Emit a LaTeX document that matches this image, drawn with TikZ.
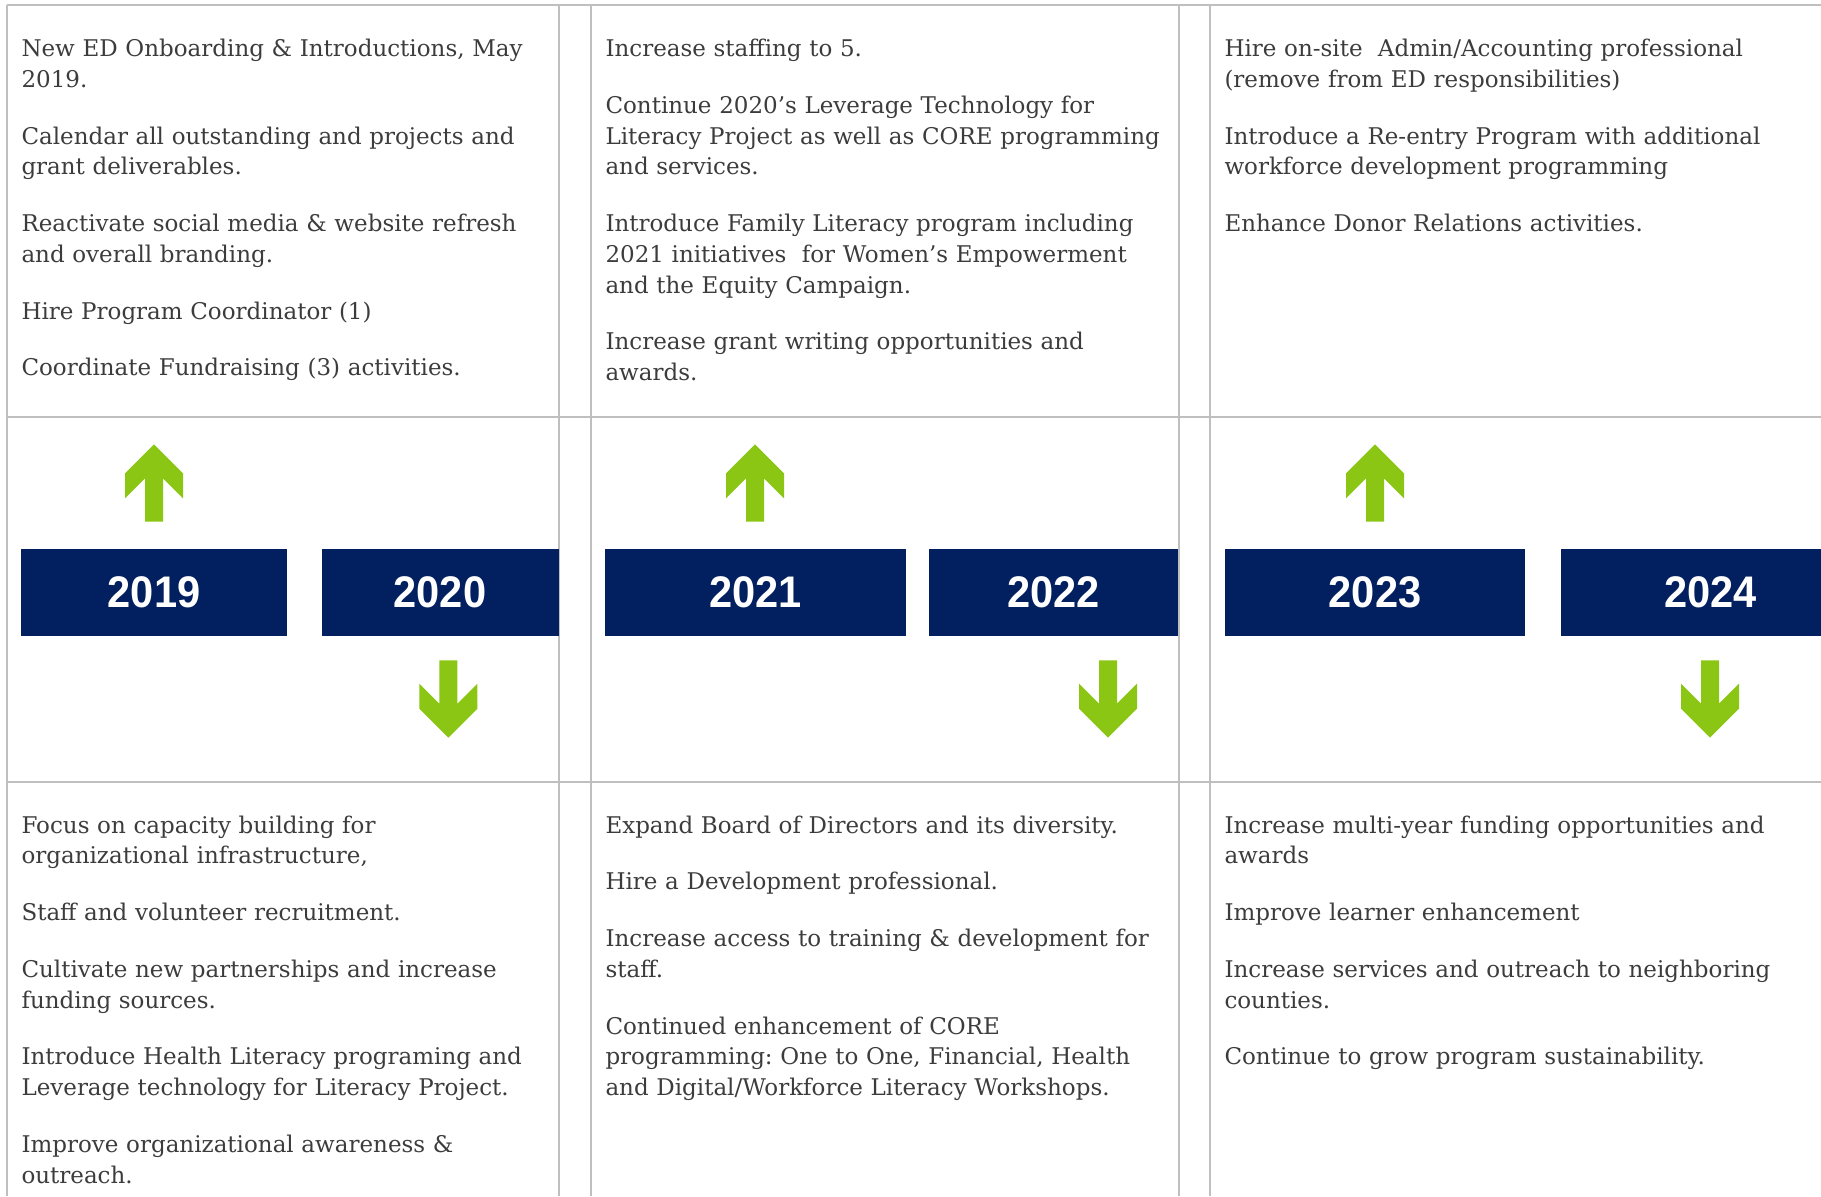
\documentclass[tikz,border=0pt]{standalone}
\usepackage{fontspec}
\setmainfont{DejaVu Serif}
\newfontfamily\yearfont[FakeStretch=0.94]{Liberation Sans}
\usetikzlibrary{positioning}
\definecolor{gridgray}{RGB}{191,191,191}
\definecolor{yearblue}{RGB}{2,32,96}
\definecolor{arrowgreen}{RGB}{140,198,20}
\definecolor{textgray}{RGB}{60,60,60}
% gap between two goals of one cell
\newcommand{\nextgoal}{\\[10.4pt]}

\tikzset{
  grid line/.style={gridgray, line width=0.8pt},
  year/.style={anchor=north west, fill=yearblue, text=white, inner sep=0pt,
    minimum height=34.8pt, font=\yearfont\bfseries\fontsize{17.7}{20}\selectfont},
  plan/.style={anchor=base west, align=left, text width=260pt, inner sep=0pt,
    text=textgray, font=\fontsize{9.2}{12.3}\selectfont\frenchspacing},
  goal arrow/.pic={
    \fill[arrowgreen] (0,0) -- (-29,29) -- (-29,54) -- (-9,34) -- (-9,77.4)
      -- (9,77.4) -- (9,34) -- (29,54) -- (29,29) -- cycle;
  }
}

\begin{document}
\begin{tikzpicture}[x=0.4pt, y=-0.4pt]
  \useasboundingbox (0,0) rectangle (1821,1196);
  \clip (0,0) rectangle (1821,1196);
  % table rules
  \foreach \y in {5,416.7,781.7}
    \draw[grid line] (6.5,\y) -- (1821,\y);
  \foreach \x in {6.5,559,591,1179,1209.5}
    \draw[grid line] (\x,5) -- (\x,1196);
  % years
  \foreach \yr/\x/\w in {2019/20.9/106.1, 2020/321/94.8, 2021/604.8/120.2,
                         2022/928.8/99.6, 2023/1224.2/120.3, 2024/1560.2/120}
    \node[year, minimum width=\w pt] (y\yr) at (\x,548) {\yr};
  % arrows up and down
  \foreach \x in {154,755,1375}
    \pic at (\x,444.3) {goal arrow};
  \foreach \x in {448.3,1108,1710}
    \pic[rotate=180] at (\x,737.7) {goal arrow};
  % goals above the line
  \node[plan] (plan19) at (21,56.5) {New ED Onboarding \& Introductions, May\\2019.\nextgoal
    Calendar all outstanding and projects and\\grant deliverables.\nextgoal
    Reactivate social media \& website refresh\\and overall branding.\nextgoal
    Hire Program Coordinator (1)\nextgoal
    Coordinate Fundraising (3) activities.};
  \node[plan] (plan21) at (605,56.5) {Increase staffing to 5.\nextgoal
    Continue 2020’s Leverage Technology for\\Literacy Project as well as CORE programming\\and services.\nextgoal
    Introduce Family Literacy program including\\2021 initiatives~ for Women’s Empowerment\\and the Equity Campaign.\nextgoal
    Increase grant writing opportunities and\\awards.};
  \node[plan] (plan23) at (1224,56.5) {Hire on-site~ Admin/Accounting professional\\(remove from ED responsibilities)\nextgoal
    Introduce a Re-entry Program with additional\\workforce development programming\nextgoal
    Enhance Donor Relations activities.};
  % goals below the line
  \node[plan] (plan20) at (21,833) {Focus on capacity building for\\organizational infrastructure,\nextgoal
    Staff and volunteer recruitment.\nextgoal
    Cultivate new partnerships and increase\\funding sources.\nextgoal
    Introduce Health Literacy programing and\\Leverage technology for Literacy Project.\nextgoal
    Improve organizational awareness \&\\outreach.};
  \node[plan] (plan22) at (605,833) {Expand Board of Directors and its diversity.\nextgoal
    Hire a Development professional.\nextgoal
    Increase access to training \& development for\\staff.\nextgoal
    Continued enhancement of CORE\\programming: One to One, Financial, Health\\and Digital/Workforce Literacy Workshops.};
  \node[plan] (plan24) at (1224,833) {Increase multi-year funding opportunities and\\awards\nextgoal
    Improve learner enhancement\nextgoal
    Increase services and outreach to neighboring\\counties.\nextgoal
    Continue to grow program sustainability.};
\end{tikzpicture}
\end{document}
